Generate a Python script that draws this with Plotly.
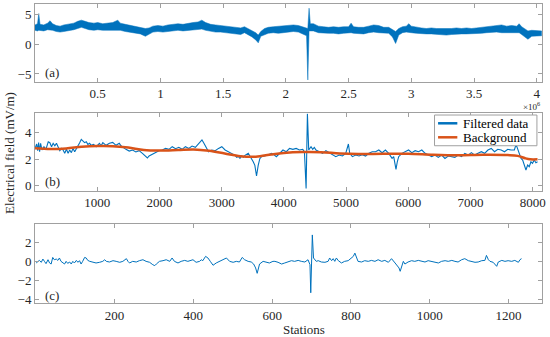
import plotly.graph_objects as go
from plotly.subplots import make_subplots

# ---------------- Panel (a): raw data envelope (x in units of 10^6 samples)
a_x = [0.00, 0.02, 0.03, 0.04, 0.07, 0.10, 0.12, 0.14, 0.17, 0.20, 0.23, 0.27, 0.31, 0.34, 0.37,
       0.40, 0.43, 0.47, 0.50, 0.54, 0.58, 0.62, 0.66, 0.68, 0.72, 0.76, 0.80, 0.84, 0.88, 0.91,
       0.94, 0.98, 1.02, 1.06, 1.10, 1.14, 1.18, 1.22, 1.26, 1.30, 1.33, 1.36, 1.40, 1.44, 1.48,
       1.52, 1.56, 1.60, 1.64, 1.67, 1.70, 1.73, 1.76, 1.78, 1.80, 1.83, 1.86, 1.90, 1.94, 1.98,
       2.02, 2.06, 2.10, 2.14, 2.165, 2.175, 2.185, 2.195, 2.22, 2.26, 2.30, 2.34, 2.38, 2.42, 2.46,
       2.50, 2.52, 2.54, 2.58, 2.62, 2.66, 2.70, 2.74, 2.78, 2.82, 2.85, 2.875, 2.90, 2.93, 2.96,
       2.98, 3.00, 3.04, 3.08, 3.12, 3.16, 3.20, 3.24, 3.28, 3.32, 3.36, 3.40, 3.44, 3.48, 3.52,
       3.56, 3.60, 3.64, 3.68, 3.72, 3.76, 3.80, 3.84, 3.86, 3.88, 3.91, 3.93, 3.96, 4.00, 4.04]
a_hi = [3.2, 3.4, 5.1, 3.3, 3.2, 3.5, 3.9, 3.4, 3.1, 3.0, 3.2, 3.3, 3.5, 3.8, 4.0,
        3.8, 3.6, 3.5, 3.6, 3.4, 3.5, 3.6, 4.0, 3.5, 3.3, 3.1, 3.0, 2.7, 2.6, 2.7,
        3.0, 3.1, 3.0, 3.2, 3.3, 3.4, 3.3, 3.5, 3.6, 3.7, 4.0, 3.6, 3.3, 3.2, 3.1,
        3.0, 2.9, 2.8, 2.7, 2.9, 2.6, 2.2, 1.9, 1.5, 2.1, 2.6, 2.8, 2.9, 3.0, 3.0,
        3.2, 3.2, 3.1, 2.8, 2.7, 2.6, 6.0, 3.4, 3.4, 3.0, 2.9, 2.8, 2.9, 2.8, 2.9,
        2.9, 3.5, 2.9, 2.8, 2.8, 3.0, 3.2, 3.1, 2.8, 2.8, 2.4, 2.1, 2.6, 2.9, 3.0,
        3.4, 3.0, 2.8, 2.7, 2.6, 2.7, 2.6, 2.6, 2.5, 2.6, 2.7, 2.6, 2.7, 2.6, 2.7,
        2.8, 2.9, 3.1, 3.2, 3.2, 3.0, 3.1, 3.0, 3.4, 2.9, 2.4, 2.2, 2.3, 2.3, 2.2]
a_lo = [2.3, 2.2, 2.3, 2.3, 2.2, 2.4, 2.4, 2.3, 2.1, 2.0, 2.1, 2.2, 2.4, 2.6, 2.8,
        2.6, 2.4, 2.3, 2.4, 2.3, 2.3, 2.4, 2.4, 2.3, 2.1, 2.0, 1.9, 1.7, 1.3, 1.6,
        2.0, 2.1, 2.0, 2.1, 2.2, 2.3, 2.2, 2.3, 2.4, 2.5, 2.5, 2.3, 2.1, 2.0, 2.0,
        1.9, 1.8, 1.7, 1.6, 1.9, 1.6, 1.2, 0.7, 0.2, 1.3, 1.6, 1.8, 1.9, 1.8, 1.9,
        2.0, 2.1, 2.0, 1.6, 1.4, -6.0, 2.2, 2.2, 2.2, 1.9, 1.8, 1.8, 1.8, 1.7, 1.8,
        1.9, 1.9, 1.8, 1.8, 1.7, 1.9, 2.0, 1.9, 1.8, 1.8, 1.2, 0.1, 1.5, 1.9, 2.0,
        2.0, 1.9, 1.8, 1.7, 1.7, 1.7, 1.6, 1.6, 1.5, 1.6, 1.7, 1.7, 1.7, 1.7, 1.7,
        1.8, 1.9, 2.0, 2.0, 1.9, 1.9, 1.8, 1.8, 1.9, 1.6, 1.2, 0.8, 1.3, 1.4, 1.4]

# ---------------- Panel (b): filtered data and background
b_x = [1, 27, 43, 58, 74, 90, 112, 144, 175, 213, 239, 266, 292, 319, 345, 372, 399, 425, 452, 478,
       505, 532, 558, 585, 611, 638, 664, 691, 718, 744, 771, 797, 824, 850, 877, 904, 941, 983, 1036,
       1063, 1090, 1143, 1196, 1249, 1302, 1355, 1382, 1409, 1462, 1515, 1568, 1621, 1674, 1727, 1781,
       1807, 1834, 1887, 1940, 1993, 2046, 2099, 2153, 2206, 2259, 2312, 2365, 2418, 2472, 2525, 2578,
       2631, 2658, 2684, 2711, 2737, 2764, 2790, 2844, 2897, 2950, 3003, 3056, 3109, 3162, 3216, 3242,
       3269, 3295, 3322, 3349, 3375, 3428, 3455, 3481, 3508, 3534, 3561, 3588, 3614, 3641, 3694, 3747,
       3800, 3827, 3880, 3933, 3986, 4039, 4092, 4145, 4198, 4251, 4304, 4331, 4358, 4379, 4400, 4437,
       4464, 4490, 4517, 4570, 4623, 4676, 4730, 4783, 4836, 4889, 4942, 4995, 5038, 5059, 5102, 5155,
       5208, 5261, 5314, 5368, 5421, 5474, 5527, 5580, 5633, 5686, 5740, 5766, 5782, 5803, 5824, 5846,
       5899, 5952, 6005, 6058, 6111, 6165, 6218, 6271, 6324, 6377, 6430, 6483, 6537, 6590, 6643, 6696,
       6749, 6802, 6856, 6909, 6962, 7015, 7068, 7121, 7175, 7228, 7281, 7334, 7387, 7440, 7494, 7547,
       7600, 7653, 7706, 7733, 7759, 7786, 7813, 7839, 7866, 7892, 7919, 7945, 7972, 7998, 8025, 8052, 8078]
b_filtered = [2.80, 3.13, 2.63, 3.23, 2.55, 3.18, 2.68, 2.93, 2.73, 3.30, 3.23, 2.93, 3.18, 3.00, 3.18, 2.88,
              2.63, 2.80, 2.68, 2.43, 2.73, 2.43, 2.68, 2.48, 2.80, 2.55, 2.75, 2.93, 3.23, 3.48, 3.38,
              3.23, 3.30, 3.10, 3.18, 3.03, 3.10, 2.93, 3.18, 3.00, 3.23, 3.03, 3.18, 3.25, 3.03, 3.18,
              3.00, 2.90, 2.73, 2.60, 2.68, 2.53, 2.63, 2.43, 2.18, 2.08, 2.23, 2.38, 2.48, 2.63, 2.68,
              2.80, 2.73, 2.93, 2.78, 2.88, 2.73, 2.93, 2.80, 2.98, 2.88, 3.18, 3.30, 3.43, 3.23, 2.98,
              2.68, 2.55, 2.68, 2.63, 2.80, 2.93, 2.68, 2.55, 2.38, 2.28, 2.13, 2.20, 2.05, 2.23, 2.13,
              2.28, 2.43, 2.23, 2.03, 1.80, 1.53, 0.73, 1.53, 2.03, 2.18, 2.23, 2.30, 2.43, 2.38, 2.18,
              2.43, 2.68, 2.55, 2.80, 2.73, 2.80, 2.68, 2.73, 2.55, -0.20, 5.40, 2.68, 2.93, 2.73, 2.88,
              2.68, 2.55, 2.43, 2.63, 2.48, 2.38, 2.18, 2.30, 2.23, 2.43, 3.13, 2.43, 2.18, 2.30, 2.23,
              2.33, 2.23, 2.43, 2.55, 2.55, 2.68, 2.48, 2.68, 2.43, 2.05, 2.18, 1.68, 1.23, 1.80, 2.18,
              2.43, 2.55, 2.68, 2.48, 2.63, 2.55, 2.68, 2.43, 2.30, 2.18, 2.30, 2.13, 2.30, 2.05, 2.23,
              2.18, 2.13, 2.30, 2.18, 2.43, 2.30, 2.48, 2.30, 2.43, 2.55, 2.43, 2.68, 2.80, 2.55, 2.73,
              2.68, 2.55, 2.73, 2.68, 2.68, 3.10, 2.80, 2.43, 2.05, 1.93, 1.55, 1.18, 1.55, 1.43, 1.80,
              1.68, 1.93, 1.73, 1.80]
bg_x = [1, 250, 500, 750, 1000, 1250, 1500, 1750, 2000, 2300, 2550, 2800, 3050, 3300, 3550, 3800,
        4000, 4300, 4600, 4900, 5200, 5600, 6000, 6400, 6800, 7200, 7600, 7760, 7880, 7960, 8078]
bg_y = [2.82, 2.76, 2.80, 2.92, 2.98, 2.97, 2.86, 2.68, 2.64, 2.68, 2.72, 2.62, 2.42, 2.22, 2.18, 2.35,
        2.46, 2.53, 2.52, 2.42, 2.38, 2.40, 2.40, 2.32, 2.28, 2.32, 2.30, 2.24, 2.06, 1.98, 1.98]

# ---------------- Panel (c): anomaly per station
c_x = [1, 5, 9, 14, 18, 22, 26, 31, 35, 39, 43, 47, 52, 56, 60, 64, 69, 73, 77, 81, 86, 90, 94, 98,
       103, 107, 111, 115, 119, 124, 128, 132, 137, 145, 153, 162, 170, 175, 179, 187, 196, 204, 213,
       221, 230, 234, 238, 246, 255, 263, 272, 280, 289, 297, 302, 306, 314, 323, 331, 340, 346, 352,
       361, 369, 378, 386, 395, 399, 407, 416, 420, 424, 431, 437, 443, 450, 458, 467, 475, 484, 492,
       501, 509, 517, 524, 530, 539, 547, 553, 558, 562, 565, 568, 577, 585, 593, 602, 607, 615, 624,
       632, 641, 649, 657, 666, 674, 683, 691, 696, 698, 702, 705, 708, 712, 717, 725, 734, 742, 746,
       751, 755, 759, 763, 768, 776, 784, 793, 801, 806, 810, 814, 818, 827, 835, 844, 852, 861, 869,
       878, 886, 895, 903, 912, 916, 922, 925, 929, 933, 937, 945, 954, 962, 971, 979, 988, 996, 1005,
       1013, 1022, 1030, 1039, 1047, 1056, 1064, 1072, 1081, 1089, 1098, 1106, 1115, 1123, 1132, 1140,
       1144, 1149, 1153, 1161, 1170, 1174, 1183, 1191, 1199, 1208, 1216, 1225, 1229, 1233]
c_y = [-0.17, 0.00, 0.10, -0.10, 0.24, 0.00, -0.24, 0.17, -0.17, -0.28, 0.41, 0.17, 0.24, 0.10, 0.35,
       0.00, -0.17, -0.28, 0.00, -0.21, -0.07, -0.28, 0.00, -0.17, 0.10, -0.10, 0.07, -0.28, 0.00, 0.41,
       0.35, 0.10, 0.00, -0.10, -0.17, -0.10, 0.00, 0.17, 0.00, -0.07, 0.07, 0.00, -0.10, 0.00, 0.28,
       0.00, -0.17, 0.00, -0.07, 0.07, 0.17, 0.00, -0.10, -0.35, -0.45, -0.28, 0.00, 0.07, 0.17, 0.00,
       0.35, 0.00, -0.17, 0.00, 0.10, 0.00, 0.07, 0.17, -0.10, 0.00, 0.17, 0.07, 0.52, 0.35, 0.00,
       -0.41, -0.17, 0.00, 0.17, 0.35, 0.00, -0.10, 0.00, -0.07, 0.41, 0.17, 0.00, -0.07, -0.28, -0.69,
       -1.25, -0.76, -0.28, 0.00, -0.10, -0.17, 0.00, 0.00, -0.10, -0.28, -0.17, 0.00, 0.07, 0.00, 0.10,
       0.00, -0.07, 0.17, -0.35, -3.28, 2.76, 0.35, 0.24, 0.00, 0.07, -0.07, -0.10, 0.00, 0.35, 0.07,
       0.28, 0.00, 0.35, 0.07, -0.17, 0.00, 0.07, 0.35, 0.52, 0.86, 0.35, 0.00, -0.07, 0.07, 0.00,
       0.10, 0.00, 0.17, 0.00, 0.10, -0.10, 0.28, -0.17, -0.41, -0.69, -1.04, -0.35, 0.00, -0.28, -0.07,
       0.07, 0.00, 0.10, 0.00, -0.07, 0.07, 0.00, -0.10, -0.17, 0.00, 0.07, 0.00, 0.10, 0.00, -0.07,
       0.17, 0.28, 0.07, 0.00, -0.10, -0.07, 0.07, 0.10, 0.62, 0.17, 0.00, -0.10, -0.52, -0.07, 0.10,
       0.00, 0.07, 0.00, 0.10, -0.10, 0.17, 0.28]

BLUE = "#0072BD"
ORANGE = "#D95319"
FONT = "Liberation Serif, Times New Roman, serif"
TXT = "#262626"

fig = make_subplots(rows=3, cols=1, vertical_spacing=0.1)

fig.add_trace(go.Scatter(x=a_x, y=a_lo, mode="lines", line=dict(color=BLUE, width=0.5),
                         showlegend=False, hoverinfo="skip"), row=1, col=1)
fig.add_trace(go.Scatter(x=a_x, y=a_hi, mode="lines", line=dict(color=BLUE, width=0.5),
                         fill="tonexty", fillcolor=BLUE, showlegend=False), row=1, col=1)

fig.add_trace(go.Scatter(x=b_x, y=b_filtered, mode="lines", line=dict(color=BLUE, width=1.1),
                         name="Filtered data", showlegend=False), row=2, col=1)
fig.add_trace(go.Scatter(x=bg_x, y=bg_y, mode="lines", line=dict(color=ORANGE, width=2.5, shape="spline"),
                         name="Background", showlegend=False), row=2, col=1)

fig.add_trace(go.Scatter(x=c_x, y=c_y, mode="lines", line=dict(color=BLUE, width=1),
                         showlegend=False), row=3, col=1)

axis_common = dict(showline=True, linecolor="#a0a0a0", linewidth=1, mirror="allticks",
                   ticks="inside", ticklen=4, tickcolor="#a0a0a0", showgrid=False, zeroline=False,
                   tickfont=dict(family=FONT, size=13, color=TXT))

fig.update_layout(
    width=550, height=337, margin=dict(l=35, r=8, t=4, b=34),
    paper_bgcolor="white", plot_bgcolor="white",
    font=dict(family=FONT, size=13, color=TXT),
    showlegend=False,
    xaxis=dict(domain=[0, 1], range=[0.0, 4.042], tickvals=[0.5, 1, 1.5, 2, 2.5, 3, 3.5, 4],
               ticktext=["0.5", "1", "1.5", "2", "2.5", "3", "3.5", "4"], **axis_common),
    yaxis=dict(domain=[0.740, 1.0], range=[-6.3, 6.7], tickvals=[-5, 0, 5], **axis_common),
    xaxis2=dict(domain=[0, 1], range=[0, 8150], tickvals=[1000, 2000, 3000, 4000, 5000, 6000, 7000, 8000],
                **axis_common),
    yaxis2=dict(domain=[0.3756, 0.6344], range=[-0.37, 5.43], tickvals=[0, 2, 4], **axis_common),
    xaxis3=dict(domain=[0, 1], range=[-2, 1285], tickvals=[200, 400, 600, 800, 1000, 1200], **axis_common),
    yaxis3=dict(domain=[0, 0.2642], range=[-4.35, 3.9], tickvals=[-4, -2, 0, 2], **axis_common),
)

ann_font = dict(family=FONT, size=13, color=TXT)
annotations = [
    dict(text="(a)", x=0.016, y=0.116, xref="x domain", yref="y domain", xanchor="left", yanchor="middle",
         showarrow=False, font=ann_font),
    dict(text="(b)", x=0.016, y=0.125, xref="x2 domain", yref="y2 domain", xanchor="left", yanchor="middle",
         showarrow=False, font=ann_font),
    dict(text="(c)", x=0.016, y=0.092, xref="x3 domain", yref="y3 domain", xanchor="left", yanchor="middle",
         showarrow=False, font=ann_font),
    dict(text="×10<sup>6</sup>", x=1.0, y=-0.205, xref="x domain", yref="y domain", xanchor="right",
         yanchor="top", showarrow=False, font=dict(family=FONT, size=9, color=TXT)),
    dict(text="Electrical field (mV/m)", x=-0.049, y=0.502, xref="paper", yref="paper", textangle=-90,
         xanchor="center", yanchor="middle", showarrow=False, font=ann_font),
    dict(text="Stations", x=0.53, y=-0.087, xref="paper", yref="paper",
         xanchor="center", yanchor="middle", showarrow=False, font=ann_font),
    dict(text="Filtered data", x=0.841, y=0.871, xref="x2 domain", yref="y2 domain", xanchor="left",
         yanchor="middle", showarrow=False, font=dict(family=FONT, size=13, color="black")),
    dict(text="Background", x=0.841, y=0.690, xref="x2 domain", yref="y2 domain", xanchor="left",
         yanchor="middle", showarrow=False, font=dict(family=FONT, size=13, color="black")),
]
fig.update_layout(annotations=annotations)

shapes = [
    dict(type="rect", x0=0.788, x1=0.990, y0=0.581, y1=0.978, xref="x2 domain", yref="y2 domain",
         fillcolor="white", line=dict(color="#a0a0a0", width=1), layer="above"),
    dict(type="line", x0=0.795, x1=0.833, y0=0.871, y1=0.871, xref="x2 domain", yref="y2 domain",
         line=dict(color=BLUE, width=2.5)),
    dict(type="line", x0=0.795, x1=0.833, y0=0.690, y1=0.690, xref="x2 domain", yref="y2 domain",
         line=dict(color=ORANGE, width=2.5)),
]
fig.update_layout(shapes=shapes)

fig.write_html("out.html", config={"displayModeBar": False},
               post_script="document.body.style.margin='0px';document.body.style.overflow='hidden';")
